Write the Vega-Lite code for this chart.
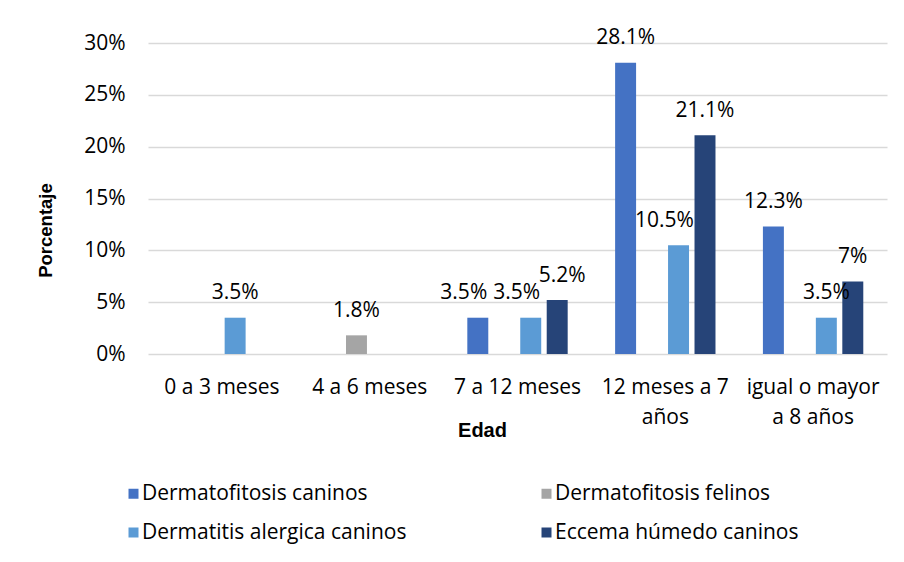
{
  "$schema": "https://vega.github.io/schema/vega-lite/v6.json",
  "width": 739,
  "height": 311,
  "autosize": {"type": "none"},
  "padding": {"left": 148, "top": 43, "right": 17, "bottom": 208},
  "background": "white",
  "config": {"view": {"stroke": null}, "font": "Open Sans"},
  "data": {
    "values": [
      {"edad": "0 a 3 meses", "serie": "Dermatitis alergica caninos", "valor": 0.035},
      {"edad": "4 a 6 meses", "serie": "Dermatofitosis felinos", "valor": 0.018},
      {"edad": "7 a 12 meses", "serie": "Dermatofitosis caninos", "valor": 0.035},
      {"edad": "7 a 12 meses", "serie": "Dermatitis alergica caninos", "valor": 0.035},
      {"edad": "7 a 12 meses", "serie": "Eccema húmedo caninos", "valor": 0.052},
      {"edad": "12 meses a 7 años", "serie": "Dermatofitosis caninos", "valor": 0.281},
      {"edad": "12 meses a 7 años", "serie": "Dermatitis alergica caninos", "valor": 0.105},
      {"edad": "12 meses a 7 años", "serie": "Eccema húmedo caninos", "valor": 0.211},
      {"edad": "igual o mayor a 8 años", "serie": "Dermatofitosis caninos", "valor": 0.123},
      {"edad": "igual o mayor a 8 años", "serie": "Dermatitis alergica caninos", "valor": 0.035},
      {"edad": "igual o mayor a 8 años", "serie": "Eccema húmedo caninos", "valor": 0.07}
    ]
  },
  "encoding": {
    "x": {
      "field": "edad",
      "type": "nominal",
      "sort": ["0 a 3 meses", "4 a 6 meses", "7 a 12 meses", "12 meses a 7 años", "igual o mayor a 8 años"],
      "scale": {"paddingInner": 0, "paddingOuter": 0},
      "axis": {
        "title": "Edad",
        "titleFont": "Liberation Sans",
        "titleFontWeight": "bold",
        "titleFontSize": 20,
        "titleColor": "#000000",
        "titleX": 334,
        "titleY": 66,
        "titleBaseline": "top",
        "titleAlign": "center",
        "labelAngle": 0,
        "labelFontSize": 21,
        "labelColor": "#000000",
        "labelBaseline": "top",
        "labelPadding": 22,
        "labelLineHeight": 30,
        "labelLimit": 300,
        "labelExpr": "datum.value == '12 meses a 7 años' ? ['12 meses a 7', 'años'] : datum.value == 'igual o mayor a 8 años' ? ['igual o mayor', 'a 8 años'] : datum.label",
        "ticks": false,
        "tickSize": 0,
        "domain": false,
        "grid": false
      }
    },
    "xOffset": {
      "field": "serie",
      "type": "nominal",
      "scale": {
        "domain": ["Dermatofitosis caninos", "Dermatofitosis felinos", "Dermatitis alergica caninos", "Eccema húmedo caninos"],
        "paddingInner": 0.2075,
        "paddingOuter": 0.896
      }
    },
    "y": {
      "field": "valor",
      "type": "quantitative",
      "scale": {"domain": [0, 0.3]},
      "axis": {
        "title": "Porcentaje",
        "titleFont": "Liberation Sans",
        "titleFontWeight": "bold",
        "titleFontSize": 18.5,
        "titleColor": "#000000",
        "titleX": -103,
        "titleY": 187,
        "titleBaseline": "middle",
        "titleAlign": "center",
        "titleAngle": -90,
        "values": [0, 0.05, 0.1, 0.15, 0.2, 0.25, 0.3],
        "format": ".0%",
        "labelFontSize": 21,
        "labelColor": "#000000",
        "labelPadding": 23,
        "ticks": false,
        "tickSize": 0,
        "domain": false,
        "grid": true,
        "gridColor": "#d9d9d9",
        "gridWidth": 1.5
      }
    }
  },
  "layer": [
    {
      "mark": {"type": "bar"},
      "encoding": {
        "color": {
          "field": "serie",
          "type": "nominal",
          "scale": {
            "domain": ["Dermatofitosis caninos", "Dermatitis alergica caninos", "Dermatofitosis felinos", "Eccema húmedo caninos"],
            "range": ["#4472C4", "#5B9BD5", "#A5A5A5", "#264478"]
          },
          "legend": {
            "title": null,
            "orient": "none",
            "legendX": -25,
            "legendY": 440,
            "columns": 2,
            "columnPadding": 129,
            "rowPadding": 17,
            "symbolType": "square",
            "symbolSize": 100,
            "symbolStrokeWidth": 0,
            "labelFontSize": 21,
            "labelColor": "#000000",
            "labelOffset": -2,
            "labelLimit": 400
          }
        }
      }
    },
    {
      "transform": [{"filter": "!((datum.edad == '7 a 12 meses') || (datum.edad == '12 meses a 7 años' && datum.serie == 'Dermatitis alergica caninos'))"}],
      "mark": {"type": "text", "dy": -18.5, "baseline": "alphabetic", "fontSize": 21, "color": "#000000"},
      "encoding": {
        "text": {"field": "valor", "type": "quantitative", "format": ".1~%"}
      }
    },
    {
      "transform": [{"filter": "(datum.edad == '7 a 12 meses' && datum.serie != 'Eccema húmedo caninos') || (datum.edad == '12 meses a 7 años' && datum.serie == 'Dermatitis alergica caninos')"}],
      "mark": {"type": "text", "dy": -18.5, "dx": -14, "baseline": "alphabetic", "fontSize": 21, "color": "#000000"},
      "encoding": {
        "text": {"field": "valor", "type": "quantitative", "format": ".1~%"}
      }
    },
    {
      "transform": [{"filter": "datum.edad == '7 a 12 meses' && datum.serie == 'Eccema húmedo caninos'"}],
      "mark": {"type": "text", "dy": -18.5, "dx": 5, "baseline": "alphabetic", "fontSize": 21, "color": "#000000"},
      "encoding": {
        "text": {"field": "valor", "type": "quantitative", "format": ".1~%"}
      }
    }
  ]
}
